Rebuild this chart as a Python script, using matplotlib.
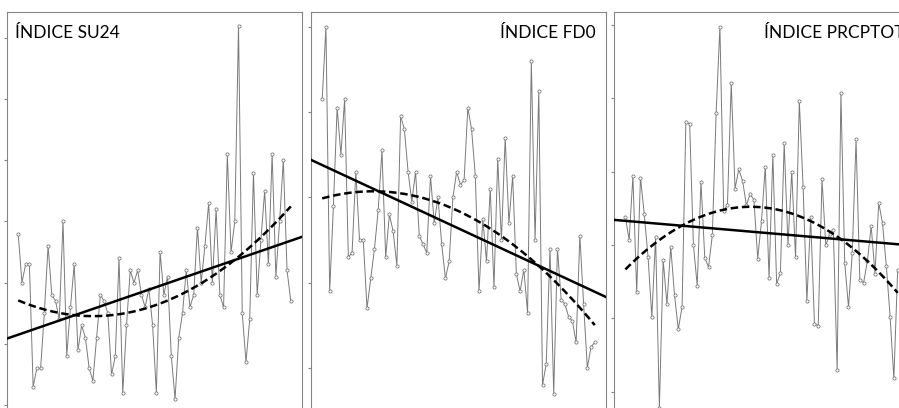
import matplotlib
matplotlib.use('Agg')

import matplotlib.pyplot as plt
import numpy as np

plt.rcParams['font.family'] = ['Lato', 'DejaVu Sans']

# values, one per year
su24 = [28, 20, 23, 23, 3, 6, 6, 15, 26, 18, 17, 14, 30, 8, 16, 23, 9, 13, 11, 6,
        4, 11, 18, 17, 15, 5, 8, 24, 2, 13, 22, 20, 22, 18, 16, 19, 13, 2, 25, 18,
        21, 8, 1, 11, 15, 22, 16, 18, 29, 20, 26, 33, 20, 32, 18, 16, 41, 25, 30, 62,
        15, 7, 14, 38, 18, 27, 35, 23, 41, 21, 30, 40, 22, 17]
fd0 = [83, 100, 38, 58, 81, 70, 83, 46, 47, 66, 50, 50, 34, 41, 48, 57, 71, 46, 56, 52,
       44, 79, 76, 66, 59, 66, 51, 49, 47, 65, 54, 60, 49, 41, 45, 60, 66, 63, 64, 81,
       76, 65, 38, 55, 45, 62, 39, 69, 50, 74, 54, 65, 42, 38, 43, 33, 92, 50, 85, 16,
       21, 48, 14, 48, 36, 35, 32, 31, 26, 51, 35, 20, 25, 26]
prcptot = [677, 614, 788, 472, 784, 684, 568, 404, 621, 155, 559, 439, 595, 464, 370, 432, 935, 930, 600, 489,
           773, 565, 540, 627, 959, 1195, 693, 710, 1043, 754, 806, 775, 709, 739, 723, 563, 665, 814, 509, 845,
           495, 523, 878, 600, 800, 566, 992, 759, 447, 675, 385, 380, 779, 599, 629, 641, 259, 1014, 552, 431,
           577, 889, 504, 497, 557, 652, 522, 715, 659, 543, 405, 236, 532]

titles = ['ÍNDICE SU24', 'ÍNDICE FD0', 'ÍNDICE PRCPTOT']
yticks = [[0, 10, 20, 30, 40, 50, 60],
          [20, 40, 60, 80, 100],
          [200, 400, 600, 800, 1000, 1200]]
ylims = [(-4.09, 64.25), (5.47, 103.45), (95.5, 1235.4)]

W, H = 899, 408
fig = plt.figure(figsize=(W / 100, H / 100), dpi=100)

# the three charts sit side by side; bottoms and the last right edge are cropped
lefts = [7, 311, 614]
panels = []
for left in lefts:
    ax = fig.add_axes([left / W, (H - 430) / H, 295 / W, 418 / H])
    panels.append(ax)

series = [su24, fd0, prcptot]
for k, (ax, y) in enumerate(zip(panels, series)):
    y = np.array(y, dtype=float)
    x = np.arange(len(y))
    ax.plot(x, y, color='#7a7a7a', lw=0.7, marker='o', ms=2.3,
            mfc='white', mec='#7a7a7a', mew=0.6, zorder=2)

    # linear trend over the whole plot width
    xl = np.array([-3, len(y) + 2])
    a, b = np.polyfit(x, y, 1)
    ax.plot(xl, a * xl + b, color='black', lw=1.8, zorder=3)

    # polynomial (order 2) trend over the data span
    p = np.polyfit(x, y, 2)
    xs = np.linspace(0, len(y) - 1, 200)
    ax.plot(xs, np.polyval(p, xs), color='black', lw=1.8, ls=(0, (3, 1.5)), zorder=3)

    ax.set_xlim(-3, len(y) + 2)
    ax.set_ylim(*ylims[k])
    ax.set_yticks(yticks[k])
    ax.set_yticklabels([])
    ax.set_xticks([])
    ax.tick_params(axis='y', direction='out', length=2.5, width=0.8, color='#868686')
    for s in ax.spines.values():
        s.set_color('#868686')
        s.set_linewidth(0.8)

panels[0].text(8 / 295, 1 - 26 / 418, titles[0], transform=panels[0].transAxes,
               fontsize=12.5, ha='left', va='baseline', color='black')
panels[1].text(1 - 10 / 295, 1 - 26 / 418, titles[1], transform=panels[1].transAxes,
               fontsize=12.5, ha='right', va='baseline', color='black')
panels[2].text(1 - 5 / 295, 1 - 26 / 418, titles[2], transform=panels[2].transAxes,
               fontsize=12.5, ha='right', va='baseline', color='black')

fig.savefig('out.png', dpi=100)
